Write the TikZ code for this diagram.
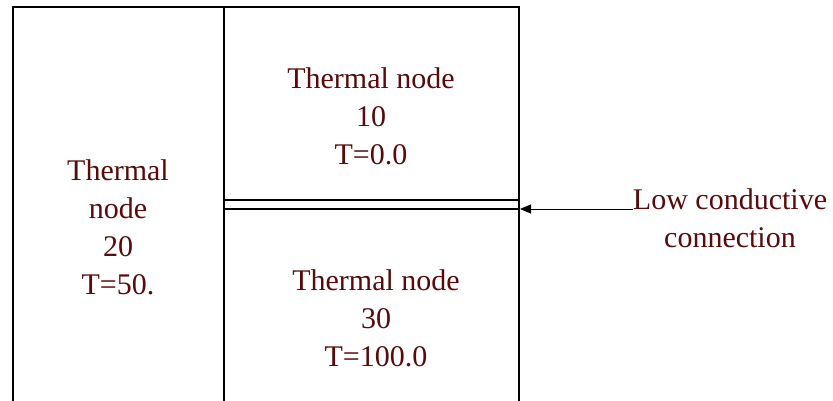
\documentclass[tikz,border=0pt]{standalone}
\usepackage{fontspec}
\setmainfont{Liberation Serif}
\usepackage{tikz}
\usetikzlibrary{arrows.meta,positioning}
\definecolor{maroon}{RGB}{90,10,10}
\tikzset{
  wall/.style={draw=black, line width=1.5pt},
  nodetext/.style={text=maroon, align=center, inner sep=0pt, font=\fontsize{30}{38}\selectfont},
  arrowline/.style={draw=black, line width=1pt, -{Triangle[length=11pt,width=9pt]}}
}

\begin{document}
\begin{tikzpicture}[x=1pt, y=-1pt]
  \useasboundingbox (0,0) rectangle (833,401);
  % walls of the three regions
  \draw[wall] (13,401) -- (13,7) -- (519,7) -- (519,401);
  \draw[wall] (224,7) -- (224,401);
  \draw[wall] (224,200) -- (519,200);
  \draw[wall] (224,209) -- (519,209);
  \coordinate (conn) at (520,209);
  % node labels
  \node[nodetext] (n10) at (371,116) {Thermal node\\10\\T=0.0};
  \node[nodetext] (n30) at (376,318) {Thermal node\\30\\T=100.0};
  \node[nodetext] (n20) at (118,227) {Thermal\\node\\20\\T=50.};
  \node[nodetext] (low) at (730,218) {Low conductive\\connection};
  \draw[arrowline] (low.west |- conn) -- (conn);
\end{tikzpicture}
\end{document}
